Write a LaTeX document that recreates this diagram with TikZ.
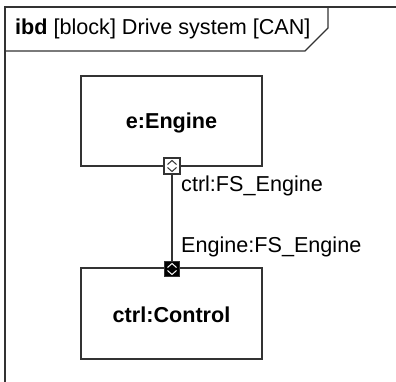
\documentclass[tikz,border=0pt]{standalone}
\usepackage{fontspec}
\setmainfont{Liberation Sans}
\definecolor{ink}{HTML}{333333}
\begin{document}
\begin{tikzpicture}[x=1pt,y=-1pt,
  line/.style={draw=ink,line width=1.1pt},
  blockbox/.style={line,rectangle,minimum width=181pt,minimum height=90pt,inner sep=0pt,fill=white},
  portw/.style={line,rectangle,minimum size=16pt,inner sep=0pt,fill=white},
  portb/.style={line,rectangle,minimum size=15pt,inner sep=0pt,fill=black},
  lbl/.style={font=\fontsize{21.6}{25}\selectfont,inner sep=0pt,text=black},
  blbl/.style={font=\fontsize{21.6}{25}\selectfont\bfseries,inner sep=0pt,text=black}]
\useasboundingbox (0,0) rectangle (396,382);
% frame
\draw[line] (5,382) -- (5,7) -- (396,7);
\draw[line] (5,51) -- (305,51) -- (328,28) -- (328,7);
\node[lbl,anchor=base west] (title) at (15,35) {\textbf{ibd} [block] Drive system [CAN]};
% blocks
\node[blockbox] (eng) at (171.5,121) {};
\node[blbl,anchor=base] (englbl) at (171.5,129) {e:Engine};
\node[blockbox,minimum height=91pt] (ctl) at (171.5,313.5) {};
\node[blbl,anchor=base] (ctllbl) at (171.5,322) {ctrl:Control};
% ports
\node[portw] (p1) at (172,166) {};
\node[portb] (p2) at (172,269) {};
\draw[ink,line width=1pt] ([xshift=-4.5pt,yshift=-1.5pt]p1.center) -- ([yshift=-5.5pt]p1.center) -- ([xshift=4.5pt,yshift=-1.5pt]p1.center);
\draw[ink,line width=1pt] ([xshift=-4.5pt,yshift=1.5pt]p1.center) -- ([yshift=5.5pt]p1.center) -- ([xshift=4.5pt,yshift=1.5pt]p1.center);
\draw[white,line width=1pt] ([xshift=-4.5pt,yshift=-1.5pt]p2.center) -- ([yshift=-5.5pt]p2.center) -- ([xshift=4.5pt,yshift=-1.5pt]p2.center);
\draw[white,line width=1pt] ([xshift=-4.5pt,yshift=1.5pt]p2.center) -- ([yshift=5.5pt]p2.center) -- ([xshift=4.5pt,yshift=1.5pt]p2.center);
% connector
\draw[line] (p1.south) -- (p2.north);
\node[lbl,anchor=base west] (l1) at (181,192) {ctrl:FS\_Engine};
\node[lbl,anchor=base west] (l2) at (181,252) {Engine:FS\_Engine};
\end{tikzpicture}
\end{document}
